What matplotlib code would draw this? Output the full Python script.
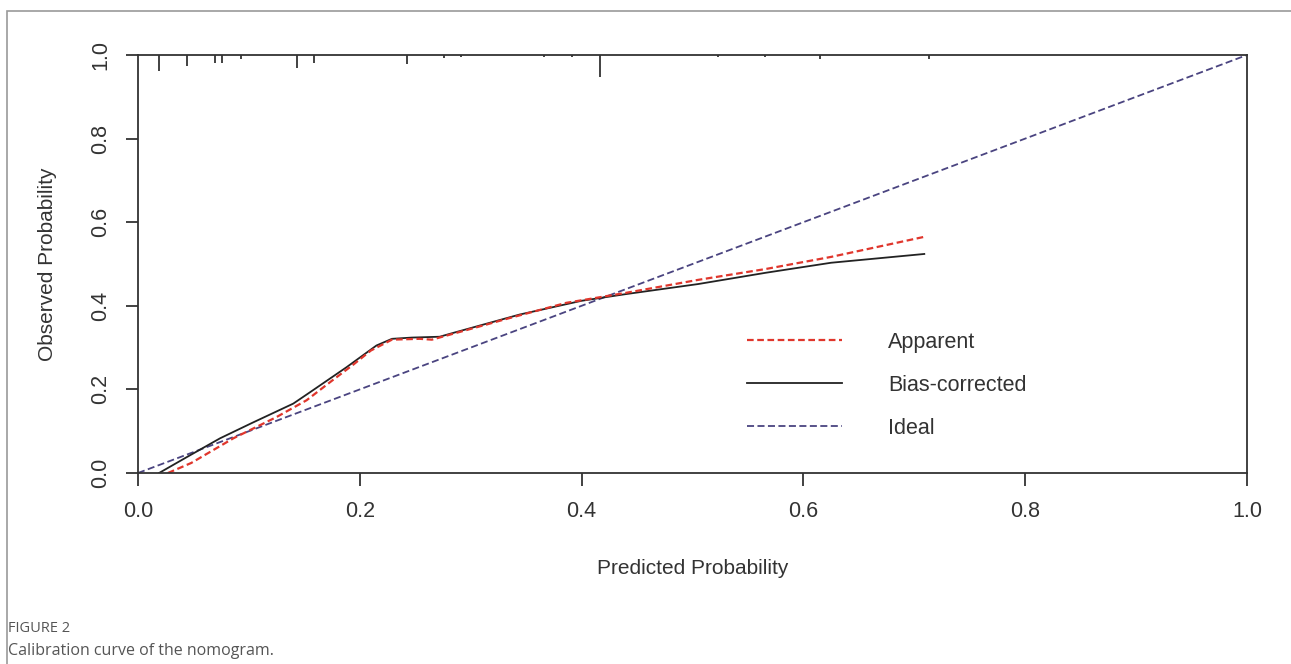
import matplotlib
matplotlib.use("Agg")
import matplotlib.pyplot as plt
from matplotlib.patches import Rectangle

# ---- data ----
bias_x = [0.019, 0.044, 0.074, 0.103, 0.140, 0.155, 0.188, 0.215, 0.229, 0.247, 0.272,
          0.284, 0.314, 0.344, 0.400, 0.440, 0.505, 0.566, 0.625, 0.709]
bias_y = [0.000, 0.038, 0.083, 0.120, 0.166, 0.193, 0.253, 0.305, 0.321, 0.324, 0.326,
          0.335, 0.357, 0.379, 0.412, 0.428, 0.452, 0.479, 0.503, 0.524]
app_x = [0.027, 0.048, 0.086, 0.125, 0.152, 0.175, 0.194, 0.210, 0.229, 0.254, 0.265,
         0.284, 0.314, 0.330, 0.386, 0.440, 0.505, 0.566, 0.625, 0.709]
app_y = [0.000, 0.024, 0.083, 0.134, 0.174, 0.221, 0.259, 0.293, 0.319, 0.321, 0.319,
         0.333, 0.355, 0.367, 0.407, 0.431, 0.462, 0.488, 0.517, 0.565]
ideal_x = [0.0, 1.0]
ideal_y = [0.0, 1.0]
rug_x = [0.019, 0.044, 0.069, 0.076, 0.093, 0.143, 0.159, 0.243, 0.276, 0.291,
         0.366, 0.391, 0.417, 0.523, 0.565, 0.615, 0.713]
rug_h = [0.038, 0.026, 0.019, 0.019, 0.010, 0.031, 0.019, 0.022, 0.007, 0.005,
         0.005, 0.005, 0.053, 0.005, 0.005, 0.010, 0.010]
ticks = [0.0, 0.2, 0.4, 0.6, 0.8, 1.0]
tick_labels = ["0.0", "0.2", "0.4", "0.6", "0.8", "1.0"]
legend_labels = ["Apparent", "Bias-corrected", "Ideal"]

W, H = 1291, 664
fig = plt.figure(figsize=(W / 100, H / 100), dpi=100)
plt.rcParams['font.family'] = ['Liberation Sans', 'DejaVu Sans']
FS = 15.5

# outer frame
fig.patches.append(Rectangle((7 / W, -0.05), 1.0, 1.05 - 11 / H, transform=fig.transFigure,
                             fill=False, edgecolor="#9a9a9a", linewidth=1.2))

L, R, T, B = 138, 1247, 55, 473
ax = fig.add_axes([L / W, 1 - B / H, (R - L) / W, (B - T) / H])
ax.set_xlim(0, 1)
ax.set_ylim(0, 1)

spine_c = "#333333"
for s in ax.spines.values():
    s.set_color(spine_c)
    s.set_linewidth(1.3)

ax.set_xticks(ticks)
ax.set_xticklabels(tick_labels)
ax.set_yticks(ticks)
ax.set_yticklabels(tick_labels, rotation=90, va="center")
ax.tick_params(axis="both", direction="out", length=9, width=1.3, color=spine_c,
               labelsize=FS, labelcolor="#333333")
ax.tick_params(axis="x", pad=11)
ax.tick_params(axis="y", pad=10)

ax.set_xlabel("Predicted Probability", fontsize=15, color="#333333", labelpad=27)
ax.set_ylabel("Observed Probability", fontsize=15, color="#333333", labelpad=24)

red = "#e0362c"
purple = "#4a4480"
l_ideal, = ax.plot(ideal_x, ideal_y, color=purple, linewidth=1.3, dashes=(3.9, 1.9))
l_bias, = ax.plot(bias_x, bias_y, color="#222222", linewidth=1.3)
l_app, = ax.plot(app_x, app_y, color=red, linewidth=1.6, dashes=(3.0, 1.6))

# rug of predicted probabilities
ax.vlines(rug_x, [1 - h for h in rug_h], 1.0, color="#333333", linewidth=1.3)

leg = ax.legend([l_app, l_bias, l_ideal], legend_labels, frameon=False, fontsize=FS,
                loc="upper left", bbox_to_anchor=((747 - L) / (R - L), (B - 332) / (B - T)),
                handlelength=4.4, handletextpad=2.15, labelspacing=1.02, borderpad=0,
                borderaxespad=0)
for t in leg.get_texts():
    t.set_color("#333333")

fig.text(8 / W, 1 - 628 / H, "FIGURE 2", fontsize=10.5, color="#555555",
         family=["Open Sans", "DejaVu Sans"], va="center")
fig.text(8 / W, 1 - 651 / H, "Calibration curve of the nomogram.", fontsize=11.5,
         color="#555555", family=["Open Sans", "DejaVu Sans"], va="center")

fig.savefig("out.png", dpi=100)
